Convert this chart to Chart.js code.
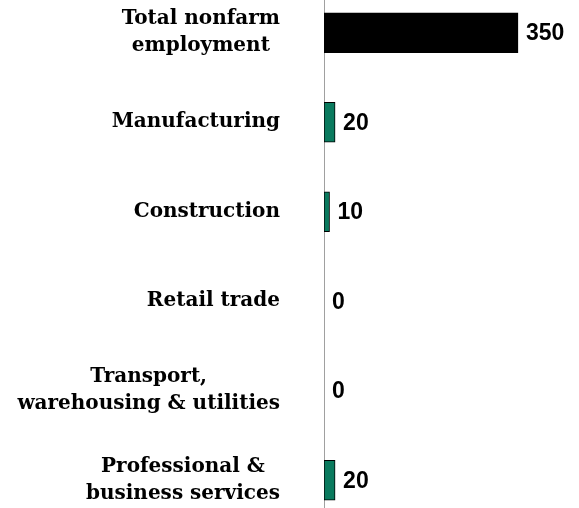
<!DOCTYPE html>
<html><head><meta charset="utf-8">
<script src="https://cdn.jsdelivr.net/npm/chart.js@4/dist/chart.umd.min.js"></script>
<style>
html,body{margin:0;padding:0;background:#fff;overflow:hidden;width:579px;height:508px;}
#wrap{position:absolute;left:0;top:-12px;width:579px;height:537px;}
</style></head><body>
<div id="wrap"><canvas id="c"></canvas></div>
<script>
const categories = [
  ["Total nonfarm","employment"],
  ["Manufacturing"],
  ["Construction"],
  ["Retail trade"],
  ["Transport,","warehousing & utilities"],
  ["Professional &","business services"]
];
const values = [350, 20, 10, 0, 0, 20];
const barColors = ["#000000","#0a7a5e","#0a7a5e","#0a7a5e","#0a7a5e","#0a7a5e"];

const LABEL_FONT = "bold 20px 'DejaVu Serif'";
const VALUE_FONT = "bold 23px 'Liberation Sans'";
const LABEL_RIGHT = 280;
const LINE_H = 27;

const labelsPlugin = {
  id: 'customLabels',
  afterDraw(chart) {
    const ctx = chart.ctx;
    const yScale = chart.scales.y;
    const meta = chart.getDatasetMeta(0);
    ctx.save();
    ctx.font = LABEL_FONT;
    ctx.fillStyle = '#000';
    ctx.textBaseline = 'middle';
    ctx.textAlign = 'center';
    categories.forEach((lines, i) => {
      const yc = yScale.getPixelForTick(i);
      const w = Math.max(...lines.map(l => ctx.measureText(l).width));
      const xc = LABEL_RIGHT - w / 2;
      const y0 = yc - (lines.length - 1) * LINE_H / 2;
      lines.forEach((l, j) => ctx.fillText(l, xc, y0 + j * LINE_H));
    });
    ctx.font = VALUE_FONT;
    ctx.textAlign = 'left';
    meta.data.forEach((bar, i) => {
      ctx.fillText(String(values[i]), bar.x + 8, bar.y + 1);
    });
    ctx.restore();
  }
};

new Chart(document.getElementById('c'), {
  type: 'bar',
  data: {
    labels: categories,
    datasets: [{
      data: values,
      backgroundColor: barColors,
      borderColor: '#000000',
      borderWidth: 1,
      borderSkipped: false,
      barThickness: 40
    }]
  },
  options: {
    indexAxis: 'y',
    responsive: true,
    maintainAspectRatio: false,
    animation: false,
    layout: { padding: { left: 324, right: 0, top: 0, bottom: 0 } },
    plugins: { legend: { display: false }, tooltip: { enabled: false } },
    scales: {
      x: { min: 0, max: 460, display: false },
      y: {
        display: true,
        ticks: { display: false },
        grid: { display: false, drawTicks: false },
        border: { display: true, color: '#a0a0a0', width: 1 },
        afterFit(s) { s.width = 0; }
      }
    }
  },
  plugins: [labelsPlugin]
});
</script>
</body></html>
